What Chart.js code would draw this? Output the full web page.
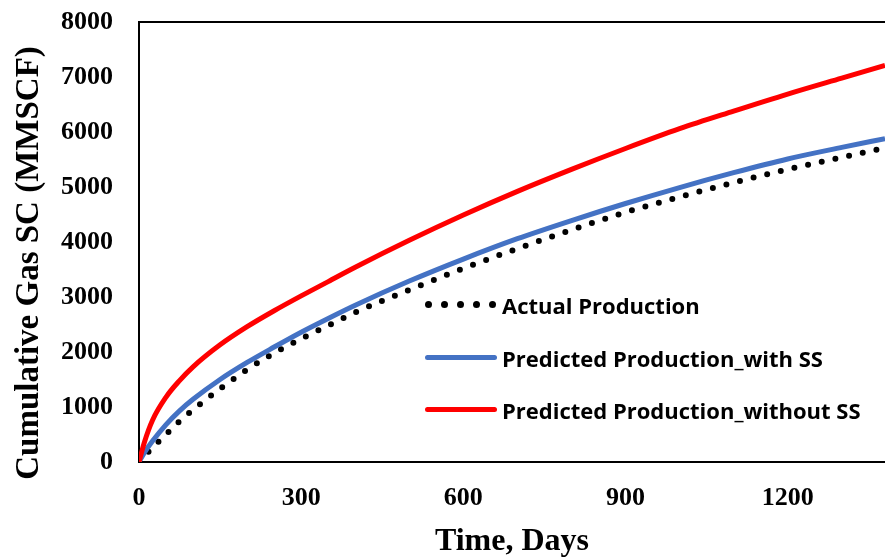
<!DOCTYPE html>
<html>
<head>
<meta charset="utf-8">
<script src="https://cdn.jsdelivr.net/npm/chart.js@4.4.1/dist/chart.umd.min.js"></script>
<style>
  html, body { margin: 0; padding: 0; background: #fff; }
  #wrap { position: relative; width: 885px; height: 558px; }
  #legend { position: absolute; left: 425px; top: 290px; font-family: "Open Sans", sans-serif; font-weight: bold; font-size: 22px; color: #000; }
  .row { position: absolute; left: 0; height: 30px; white-space: nowrap; }
  .row span.txt { position: absolute; left: 77px; top: 0; line-height: 30px; }
  .sample { position: absolute; left: 0; top: 12px; width: 72px; height: 5px; border-radius: 3px; }
  .dot { position: absolute; top: 11px; width: 7px; height: 7px; border-radius: 50%; background: #000; }
  #ytitle { position: absolute; left: -223px; top: 243px; width: 500px; height: 40px; line-height: 40px; text-align: center;
            font-family: "Liberation Serif", serif; font-weight: bold; font-size: 33px; color: #000; white-space: nowrap;
            transform: rotate(-90deg); transform-origin: 50% 50%; }
</style>
</head>
<body>
<div id="wrap">
  <canvas id="gasChart" width="885" height="558"></canvas>
  <div id="ytitle">Cumulative Gas SC (MMSCF)</div>
  <div id="legend">
    <div class="row" style="top:0">
      <div class="dot" style="left:0"></div>
      <div class="dot" style="left:16px"></div>
      <div class="dot" style="left:32px"></div>
      <div class="dot" style="left:48px"></div>
      <div class="dot" style="left:64px"></div>
      <span class="txt">Actual Production</span>
    </div>
    <div class="row" style="top:53px">
      <div class="sample" style="background:#4472C4"></div>
      <span class="txt">Predicted Production_with SS</span>
    </div>
    <div class="row" style="top:105px">
      <div class="sample" style="background:#FF0000"></div>
      <span class="txt">Predicted Production_without SS</span>
    </div>
  </div>
</div>
<script>
const days = [0, 10, 25, 50, 75, 100, 150, 200, 250, 300, 350, 400, 500, 600, 700, 800, 900, 1000, 1100, 1200, 1300, 1380];
const actual = [0, 110, 260, 500, 740, 950, 1330, 1680, 1980, 2240, 2480, 2720, 3130, 3520, 3880, 4220, 4540, 4820, 5080, 5320, 5540, 5710];
const withSS = [0, 170, 380, 680, 930, 1140, 1500, 1810, 2090, 2360, 2610, 2850, 3290, 3690, 4060, 4390, 4700, 4990, 5260, 5510, 5720, 5880];
const withoutSS = [0, 360, 760, 1180, 1480, 1730, 2130, 2460, 2750, 3020, 3280, 3540, 4030, 4490, 4920, 5320, 5700, 6060, 6380, 6690, 6980, 7210];
const xTicks = [0, 300, 600, 900, 1200];
const yTicks = [0, 1000, 2000, 3000, 4000, 5000, 6000, 7000, 8000];

function pts(values) {
  return days.map(function (d, i) { return { x: d, y: values[i] }; });
}

const frameTop = {
  id: "frameTop",
  afterDraw(chart) {
    const a = chart.chartArea;
    const ctx = chart.ctx;
    ctx.save();
    ctx.strokeStyle = "#000";
    ctx.lineWidth = 2;
    ctx.beginPath();
    ctx.moveTo(a.left, a.top);
    ctx.lineTo(a.right, a.top);
    ctx.stroke();
    ctx.restore();
  },
};

const tickFont = { family: "'Liberation Serif', serif", weight: "bold", size: 26 };
const titleFont = { family: "'Liberation Serif', serif", weight: "bold", size: 32, lineHeight: 1 };

new Chart(document.getElementById("gasChart").getContext("2d"), {
  type: "line",
  data: {
    datasets: [
      {
        label: "Actual Production",
        data: pts(actual),
        borderColor: "#000",
        borderWidth: 6,
        borderDash: [0, 14],
        borderCapStyle: "round",
        pointRadius: 0,
        cubicInterpolationMode: "monotone",
        order: 3,
      },
      {
        label: "Predicted Production_with SS",
        data: pts(withSS),
        borderColor: "#4472C4",
        borderWidth: 5,
        pointRadius: 0,
        cubicInterpolationMode: "monotone",
        order: 2,
      },
      {
        label: "Predicted Production_without SS",
        data: pts(withoutSS),
        borderColor: "#FF0000",
        borderWidth: 5,
        pointRadius: 0,
        cubicInterpolationMode: "monotone",
        order: 1,
      },
    ],
  },
  options: {
    responsive: false,
    animation: false,
    layout: { padding: { top: 22, right: 0, left: 0, bottom: 0 } },
    plugins: { legend: { display: false }, tooltip: { enabled: false } },
    scales: {
      x: {
        type: "linear",
        min: 0,
        max: 1380,
        afterBuildTicks(scale) { scale.ticks = xTicks.map(function (v) { return { value: v }; }); },
        afterFit(scale) { scale.height = 96; },
        grid: { display: false, drawTicks: false },
        border: { color: "#000", width: 2 },
        ticks: { color: "#000", font: tickFont, padding: 21, maxRotation: 0, callback: function (v) { return String(v); } },
        title: { display: true, text: "Time, Days", color: "#000", font: titleFont, padding: 0 },
      },
      y: {
        min: 0,
        max: 8000,
        afterBuildTicks(scale) { scale.ticks = yTicks.map(function (v) { return { value: v }; }); },
        afterFit(scale) {
          scale.width = 139;
          scale.paddingTop = 0;
          scale.paddingBottom = 0;
        },
        grid: { display: false, drawTicks: false },
        border: { color: "#000", width: 2 },
        ticks: { color: "#000", font: tickFont, padding: 26, callback: function (v) { return String(v); } },
      },
    },
  },
  plugins: [frameTop],
});
</script>
</body>
</html>
